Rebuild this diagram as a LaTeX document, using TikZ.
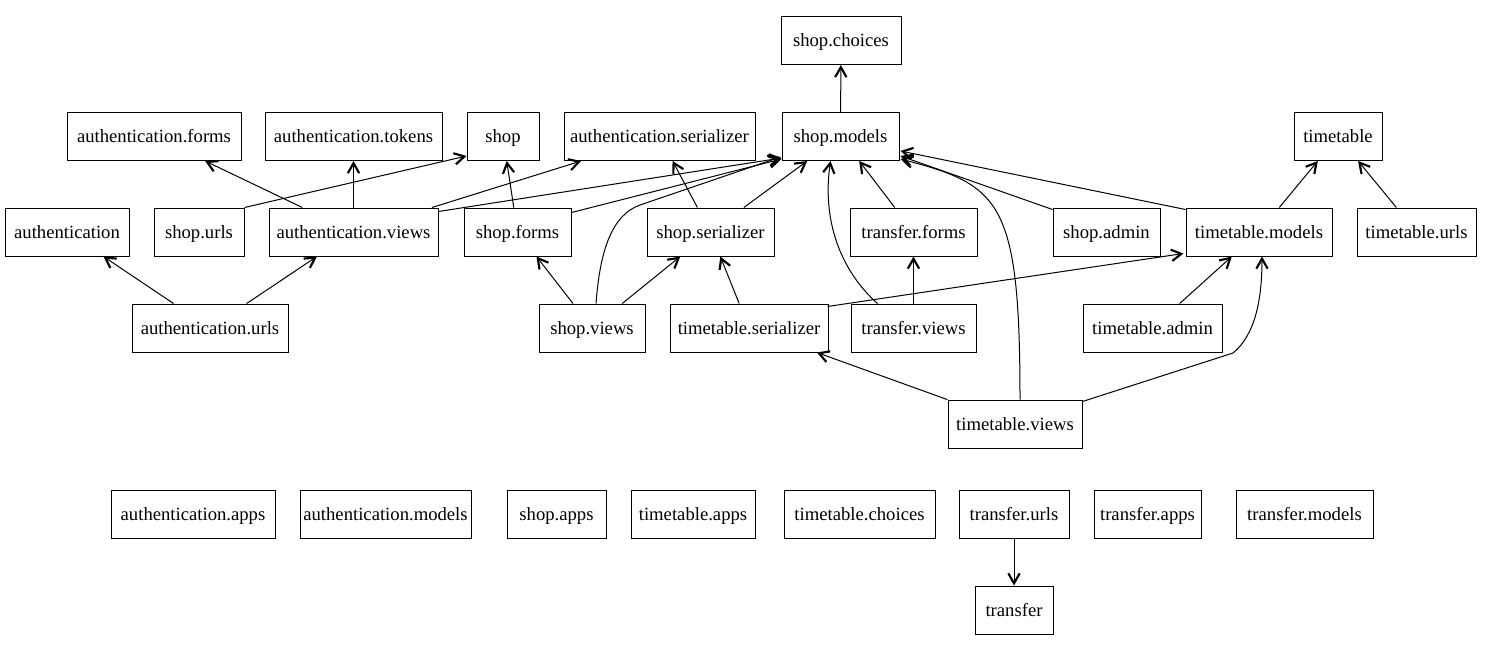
\documentclass[tikz,border=0pt]{standalone}
\usepackage{fontspec}
\setmainfont{Liberation Serif}
\newfontfamily\tmsfont{Liberation Serif}
\usetikzlibrary{arrows.meta,calc}
\begin{document}
\begin{tikzpicture}[x=0.75pt,y=-0.75pt,
  box/.style={draw,line width=0.75pt,inner sep=0pt,minimum height=36pt,text height=11pt,text depth=2pt,font=\tmsfont\fontsize{14}{16}\selectfont},
  bw/.style={minimum width=#1*0.75pt},
  edge/.style={line width=0.75pt,-{Straight Barb[length=7.5pt,width=8.5pt,line width=1.6pt]}}]
\useasboundingbox (0,0) rectangle (1488,651);
% row 0
\node[box,bw=120] (sc) at (841,40.5) {shop.choices};
% row 1
\node[box,bw=174] (af) at (154,136.5) {authentication.forms};
\node[box,bw=177] (at) at (353.5,136.5) {authentication.tokens};
\node[box,bw=72] (shop) at (503,136.5) {shop};
\node[box,bw=191] (aser) at (659.5,136.5) {authentication.serializer};
\node[box,bw=117] (sm) at (840.5,136.5) {shop.models};
\node[box,bw=88] (tt) at (1338,136.5) {timetable};
% row 2
\node[box,bw=124] (auth) at (67,232) {authentication};
\node[box,bw=90] (su) at (199,232) {shop.urls};
\node[box,bw=169] (av) at (353.5,232) {authentication.views};
\node[box,bw=107] (sf) at (517.5,232) {shop.forms};
\node[box,bw=127] (ss) at (710.5,232) {shop.serializer};
\node[box,bw=127] (tf) at (913.5,232) {transfer.forms};
\node[box,bw=107] (sa) at (1106.5,232) {shop.admin};
\node[box,bw=146] (tm) at (1259,232) {timetable.models};
\node[box,bw=119] (tu) at (1416.5,232) {timetable.urls};
% row 3
\node[box,bw=156] (au) at (210,328) {authentication.urls};
\node[box,bw=106] (sv) at (592,328) {shop.views};
\node[box,bw=158] (tser) at (749,328) {timetable.serializer};
\node[box,bw=125] (trv) at (913.5,328) {transfer.views};
\node[box,bw=139] (ta) at (1152.5,328) {timetable.admin};
% row 4
\node[box,bw=134] (tmv) at (1015,424) {timetable.views};
% row 5
\node[box,bw=164] (aa) at (193,514) {authentication.apps};
\node[box,bw=171] (am) at (385.5,514) {authentication.models};
\node[box,bw=99] (sap) at (556.5,514) {shop.apps};
\node[box,bw=124] (tap) at (693,514) {timetable.apps};
\node[box,bw=151] (tc) at (859.5,514) {timetable.choices};
\node[box,bw=110] (tru) at (1014,514) {transfer.urls};
\node[box,bw=107] (trap) at (1147.5,514) {transfer.apps};
\node[box,bw=137] (trm) at (1304.5,514) {transfer.models};
% row 6
\node[box,bw=78] (tr) at (1014,610) {transfer};
% edges
\draw[edge] (sm) -- (sc);
\draw[edge] (su.north east) -- ($(shop.south west)+(0,-5)$);
\draw[edge] (av) -- (af);
\draw[edge] (av) -- (at);
\draw[edge] (av) -- (aser);
\draw[edge] ($(av.north east)+(0,4)$) -- ($(sm.south west)+(0,-3)$);
\draw[edge] (sf) -- (shop);
\draw[edge] ($(sf.north east)+(0,5)$) -- ($(sm.south west)+(0,-2)$);
\draw[edge] (ss) -- (aser);
\draw[edge] (ss) -- (sm);
\draw[edge] (sv) -- (sf);
\draw[edge] (sv) -- (ss);
\draw[edge] ($(sv.north)+(4,0)$) .. controls (600,250) and (612,215) .. (640,205) -- ($(sm.south west)+(-1,-4)$);
\draw[edge] (au) -- (auth);
\draw[edge] (au) -- (av);
\draw[edge] (tser) -- (ss);
\draw[edge] ($(tser.north east)+(-1,3)$) -- ($(tm.south west)+(-2,-3)$);
\draw[edge] (tf) -- (sm);
\draw[edge] (trv) -- (tf);
\draw[edge] ($(trv.north west)+(27,0)$) .. controls (840,270) and (822,220) .. ($(sm.south)+(-10,0)$);
\draw[edge] ($(sa.north west)+(0,2)$) -- ($(sm.south east)+(1,-5)$);
\draw[edge] ($(tm.north west)+(0,2)$) -- ($(sm.south east)+(1,-10)$);
\draw[edge] (tm) -- (tt);
\draw[edge] (tu) -- (tt);
\draw[edge] (ta) -- (tm);
\draw[edge] (tmv) -- (tser);
\draw[edge] ($(tmv.north)+(5,0)$) .. controls (1020,200) and (1000,185) .. ($(sm.south east)+(1,-2)$);
\draw[edge] ($(tmv.north east)+(0,2)$) -- (1233,353) .. controls (1255,335) and (1262,300) .. ($(tm.south)+(3,0)$);
\draw[edge] (tru) -- (tr);
\end{tikzpicture}
\end{document}
